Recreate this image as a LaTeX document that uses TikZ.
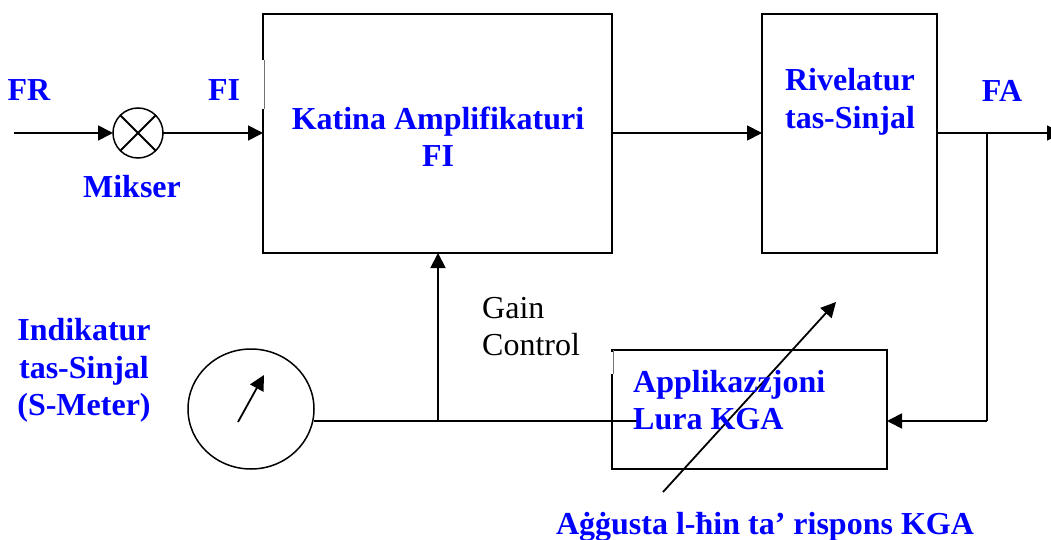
\documentclass[tikz,border=0pt]{standalone}
\usepackage{fontspec}
\setmainfont{Liberation Serif}
\usetikzlibrary{arrows.meta,shapes.geometric}
\definecolor{lbl}{RGB}{0,0,255}
\tikzset{
  blockbox/.style={draw=black,line width=2pt,minimum width=#1,inner sep=0pt,outer sep=0pt},
  wire/.style={draw=black,line width=1.8pt,-{Triangle[length=15pt,width=15pt]}},
  plainwire/.style={draw=black,line width=1.8pt},
  bluelbl/.style={text=lbl,font=\fontsize{32}{37.5}\selectfont\bfseries,inner sep=0pt,align=center},
  blacklbl/.style={text=black,font=\fontsize{32}{37.5}\selectfont,inner sep=0pt,align=left},
  round/.style={draw=black,line width=1.5pt,inner sep=0pt,outer sep=0pt},
  gapcover/.style={draw=white,line width=3pt},
  gapline/.style={draw=black!55,line width=1pt}
}
\begin{document}
\begin{tikzpicture}[x=1pt,y=-1pt]
\useasboundingbox (0,0) rectangle (1051,540);
\node[blockbox=349pt,minimum height=239pt] (amp) at (437.5,133.5) {};
\node[blockbox=175pt,minimum height=239pt] (riv) at (849.5,133.5) {};
\node[blockbox=275pt,minimum height=119pt] (agc) at (749.5,409.5) {};
\node[round,circle,minimum size=50pt] (mix) at (138,133) {};
\draw[plainwire] (mix.45) -- (mix.225) (mix.135) -- (mix.315);
\node[round,ellipse,minimum width=126pt,minimum height=120pt] (meter) at (251,409) {};

% faint stretches of the left edges of two boxes
\draw[gapcover] (263,60.5) -- (263,109);
\draw[gapline] (264,60.5) -- (264,109);
\draw[gapcover] (612,351.5) -- (612,374);
\draw[gapline] (613,350) -- (613,374);

\coordinate (frin) at (14,133);
\coordinate (out) at (1062,133);
\coordinate (tapA) at (987,133);
\coordinate (tapB) at (987,421);
\coordinate (agcR) at (887,421);
\coordinate (tapG) at (438,421);
\coordinate (ampS) at (438,253);
\coordinate (meterR) at (314,421);
\coordinate (agcIn) at (637,421);
\coordinate (adjA) at (663,492);
\coordinate (adjB) at (836,302);
\coordinate (needA) at (238,422);
\coordinate (needB) at (264,375);
\coordinate (ampL) at (263,133);
\coordinate (ampR) at (612,133);
\coordinate (rivL) at (762,133);
\coordinate (rivR) at (937,133);

\draw[wire] (frin) -- (mix.west);
\draw[wire] (mix.east) -- (ampL);
\draw[wire] (ampR) -- (rivL);
\draw[wire] (rivR) -- (out);
\draw[plainwire] (tapA) -- (tapB);
\draw[wire] (tapB) -- (agcR);
\draw[plainwire] (meterR) -- (agcIn);
\draw[wire] (tapG) -- (ampS);
\draw[wire] (adjA) -- (adjB);
\draw[wire] (needA) -- (needB);

\node[bluelbl] (fr) at (29,90.5) {FR};
\node[bluelbl] (fi) at (224,90.5) {FI};
\node[bluelbl] (mik) at (132,187) {Mikser};
\node[bluelbl] (kat) at (438,136.5) {Katina Amplifikaturi\\FI};
\node[bluelbl] (rivt) at (850,102) {Rivelatur\\tas-Sinjal};
\node[bluelbl] (fa) at (1002,90.5) {FA};
\node[bluelbl] (ind) at (84,370.5) {Indikatur\\tas-Sinjal\\(S-Meter)};
\node[bluelbl,align=left,anchor=west] (agct) at (633,400) {Applikazzjoni\\Lura KGA};
\node[bluelbl] (adj) at (765,527) {Aġġusta l-ħin ta’ rispons KGA};
\node[blacklbl,anchor=west] (gain) at (482,326.5) {Gain\\Control};
\end{tikzpicture}
\end{document}
